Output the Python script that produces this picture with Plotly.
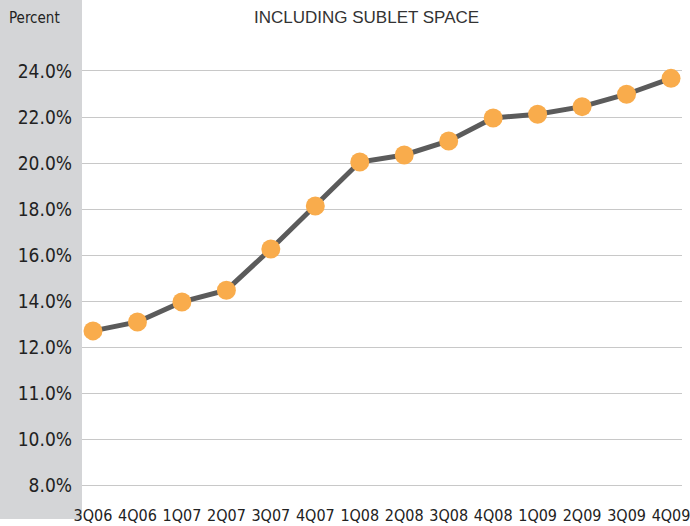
import plotly.graph_objects as go

# Quarterly vacancy rate, including sublet space
quarters = ["3Q06", "4Q06", "1Q07", "2Q07", "3Q07", "4Q07", "1Q08",
            "2Q08", "3Q08", "4Q08", "1Q09", "2Q09", "3Q09", "4Q09"]
vacancy = [12.70, 13.09, 13.96, 14.47, 16.26, 18.13, 20.04,
           20.35, 20.96, 21.96, 22.12, 22.45, 22.99, 23.68]

# Gridline positions and their printed labels
grid_vals = [6, 8, 10, 12, 14, 16, 18, 20, 22, 24]
grid_text = ["8.0%", "10.0%", "11.0%", "12.0%", "14.0%", "16.0%",
             "18.0%", "20.0%", "22.0%", "24.0%"]

NARROW = "DejaVu Sans Condensed, Liberation Sans Narrow, sans-serif"

W, H = 690, 526
L, R, T, B = 82, 8, 60, 36
plot_h = H - T - B

fig = go.Figure()
fig.add_trace(go.Scatter(
    x=quarters, y=vacancy, mode="lines+markers",
    line=dict(color="#5b5b5b", width=5),
    marker=dict(color="#f9ac4c", size=19, line=dict(width=0)),
    hoverinfo="x+y",
))

# Gray band behind the y-axis labels
fig.add_shape(type="rect", xref="paper", yref="paper",
              x0=-L / (W - L - R), x1=0,
              y0=(plot_h - (519 - T)) / plot_h, y1=(plot_h + T) / plot_h,
              fillcolor="#d4d5d7", line=dict(width=0), layer="below")

fig.add_annotation(text="Percent", xref="paper", yref="paper",
                   x=(34 - L) / (W - L - R), y=(plot_h + T - 18) / plot_h,
                   showarrow=False, xanchor="center", yanchor="middle",
                   font=dict(family=NARROW, size=15, color="#222222"))
fig.add_annotation(text="INCLUDING SUBLET SPACE", xref="paper", yref="paper",
                   x=(366 - L) / (W - L - R), y=(plot_h + T - 18) / plot_h,
                   showarrow=False, xanchor="center", yanchor="middle",
                   font=dict(family="Liberation Sans, Arial, sans-serif",
                             size=17, color="#333333"))

fig.update_layout(
    width=W, height=H,
    margin=dict(l=L, r=R, t=T, b=B, pad=0),
    paper_bgcolor="white", plot_bgcolor="white",
    showlegend=False,
    xaxis=dict(
        type="category", range=[-0.247, 13.247], automargin=False,
        showgrid=False, zeroline=False, showline=False, ticks="",
        tickfont=dict(family=NARROW, size=16, color="#222222"),
        ticklabelstandoff=14,
    ),
    yaxis=dict(
        range=[5.783, 24.478], automargin=False,
        tickvals=grid_vals, ticktext=grid_text,
        showgrid=True, gridcolor="#c8c8c8", gridwidth=1,
        zeroline=False, showline=False, ticks="",
        tickfont=dict(family=NARROW, size=19, color="#222222"),
        ticklabelstandoff=9,
    ),
)

fig.write_html("out.html")
